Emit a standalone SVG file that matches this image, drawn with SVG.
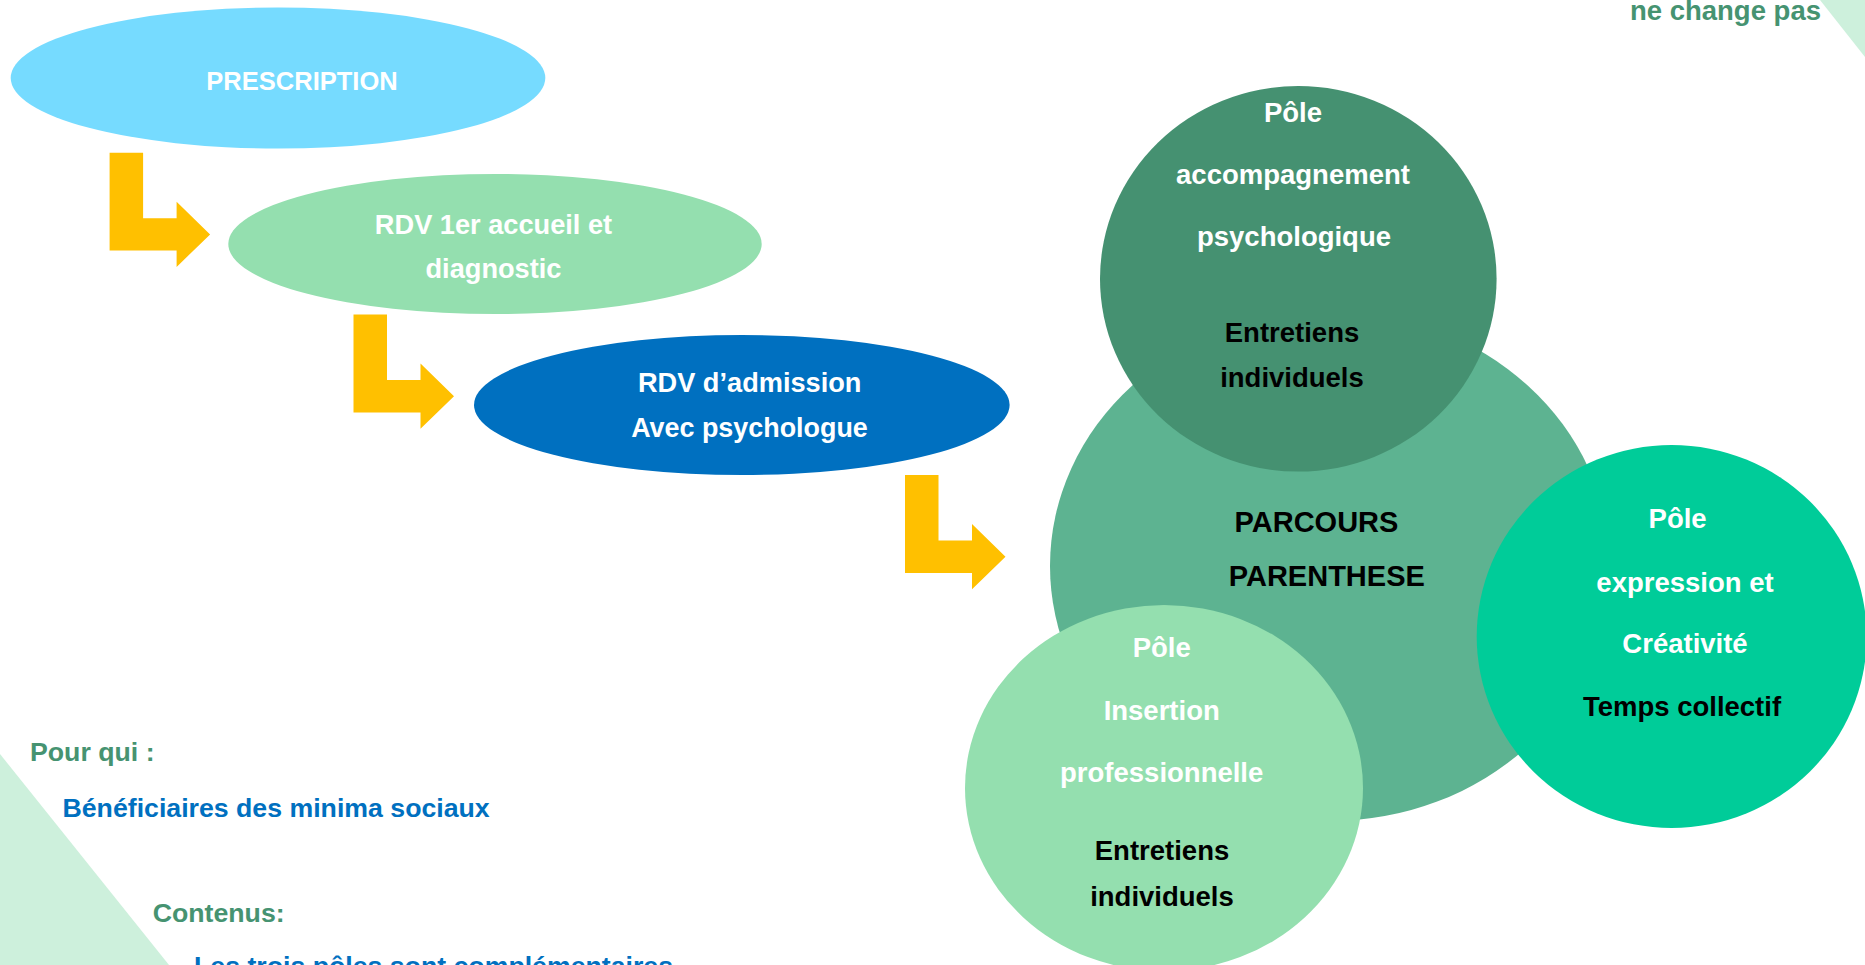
<svg xmlns="http://www.w3.org/2000/svg" width="1865" height="965" viewBox="0 0 1865 965">
<style>
  text { font-family: "Liberation Sans", Arial, sans-serif; font-weight: bold; }
  .w { fill: #ffffff; font-size: 27.5px; text-anchor: middle; }
  .k { fill: #000000; font-size: 27.5px; text-anchor: middle; }
  .g { fill: #469371; font-size: 26.7px; }
  .b { fill: #0070C0; font-size: 26.7px; }
  .arrow { fill: #FFC000; }
  .tri { fill: #CDF0DC; }
</style>
<defs>
  <path id="bent" d="M0,0 h33.5 v65.5 h33.5 v-16.5 l33.5,32.7 l-33.5,32.5 v-16.3 h-67 z"/>
</defs>
<rect width="1865" height="965" fill="#ffffff"/>

<g id="decor">
  <polygon class="tri" points="1820,0 1865,0 1865,57"/>
  <polygon class="tri" points="0,754 169,965 0,965"/>
</g>

<g id="note-top">
  <text class="g" x="1821" y="20" style="font-size:27.5px" text-anchor="end">ne change pas</text>
</g>

<g id="connectors">
  <use href="#bent" class="arrow" x="109.6" y="152.7"/>
  <use href="#bent" class="arrow" x="353.5" y="314.5"/>
  <use href="#bent" class="arrow" x="905" y="475"/>
</g>

<g id="prescription">
  <ellipse cx="278" cy="78" rx="267.3" ry="70.5" fill="#76DBFF"/>
  <text class="w" x="302" y="90" style="font-size:25.5px">PRESCRIPTION</text>
</g>

<g id="rdv-accueil">
  <ellipse cx="495" cy="244" rx="266.7" ry="70" fill="#94DFAF"/>
  <text class="w" x="493.5" y="234.3" style="font-size:27.2px">RDV 1er accueil et</text>
  <text class="w" x="493.5" y="278.3" style="font-size:27.2px">diagnostic</text>
</g>

<g id="rdv-admission">
  <ellipse cx="741.8" cy="405" rx="267.8" ry="70" fill="#0070C0"/>
  <text class="w" x="749.7" y="392.3" style="font-size:27.2px">RDV d’admission</text>
  <text class="w" x="749.5" y="437.3" style="font-size:26.9px">Avec psychologue</text>
</g>

<g id="parcours">
  <ellipse cx="1330" cy="566" rx="280" ry="255" fill="#5DB391"/>
  <text class="k" x="1316.5" y="532.3" style="font-size:29px">PARCOURS</text>
  <text class="k" x="1326.8" y="585.7" style="font-size:29px">PARENTHESE</text>
</g>

<g id="pole-psy">
  <ellipse cx="1298.3" cy="278.8" rx="198.3" ry="192.8" fill="#459171"/>
  <text class="w" x="1293" y="121.7">Pôle</text>
  <text class="w" x="1293" y="184">accompagnement</text>
  <text class="w" x="1294" y="245.7">psychologique</text>
  <text class="k" x="1292" y="341.7">Entretiens</text>
  <text class="k" x="1292" y="386.7">individuels</text>
</g>

<g id="pole-expression">
  <ellipse cx="1671.7" cy="636.5" rx="195" ry="191.5" fill="#00CC99"/>
  <text class="w" x="1677.6" y="528.3">Pôle</text>
  <text class="w" x="1685" y="591.7">expression et</text>
  <text class="w" x="1685" y="653.3">Créativité</text>
  <text class="k" x="1682" y="716">Temps collectif</text>
</g>

<g id="pole-insertion">
  <ellipse cx="1164" cy="788" rx="199" ry="183" fill="#94DFAF"/>
  <text class="w" x="1161.7" y="657.3">Pôle</text>
  <text class="w" x="1161.7" y="720">Insertion</text>
  <text class="w" x="1161.7" y="781.7">professionnelle</text>
  <text class="k" x="1162" y="860">Entretiens</text>
  <text class="k" x="1162" y="906">individuels</text>
</g>

<g id="info">
  <text class="g" x="30" y="760.7">Pour qui :</text>
  <text class="b" x="62.5" y="816.7">Bénéficiaires des minima sociaux</text>
  <text class="g" x="152.7" y="921.7">Contenus:</text>
  <text class="b" x="194" y="975">Les trois pôles sont complémentaires</text>
</g>
</svg>
